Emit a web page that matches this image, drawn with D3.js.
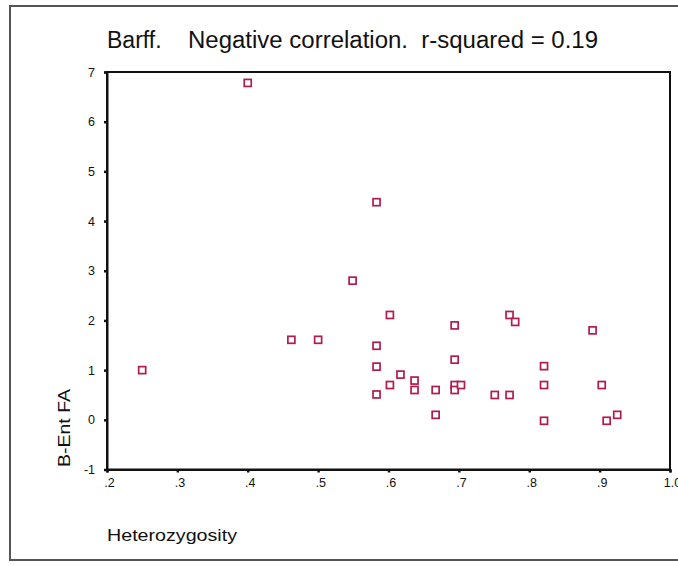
<!DOCTYPE html>
<html>
<head>
<meta charset="utf-8">
<script src="https://cdn.jsdelivr.net/npm/d3@7"></script>
<style>
  html, body { margin: 0; padding: 0; background: #ffffff; }
  svg { display: block; }
  text { font-family: "Liberation Sans", Arial, sans-serif; fill: #111; }
</style>
</head>
<body>
<svg id="chart" width="678" height="566"></svg>
<script>
// ---- data ----
const heterozygosity = [0.25, 0.40, 0.583, 0.549, 0.462, 0.50, 0.602, 0.583, 0.583, 0.583,
  0.602, 0.617, 0.637, 0.637, 0.667, 0.667, 0.694, 0.694, 0.694, 0.694,
  0.703, 0.751, 0.772, 0.772, 0.780, 0.821, 0.821, 0.821, 0.890, 0.903,
  0.910, 0.925];
const bentFA = [1.00, 6.78, 4.38, 2.80, 1.61, 1.61, 2.11, 1.49, 1.07, 0.51,
  0.70, 0.91, 0.79, 0.60, 0.60, 0.10, 1.90, 1.21, 0.70, 0.60,
  0.70, 0.50, 0.50, 2.11, 1.97, 1.08, 0.70, -0.02, 1.80, 0.70,
  -0.02, 0.10];
const xTicks = [0.2, 0.3, 0.4, 0.5, 0.6, 0.7, 0.8, 0.9, 1.0];
const xTickLabels = [".2", ".3", ".4", ".5", ".6", ".7", ".8", ".9", "1.0"];
const yTicks = [-1, 0, 1, 2, 3, 4, 5, 6, 7];
const yTickLabels = ["-1", "0", "1", "2", "3", "4", "5", "6", "7"];
const titleLead = "Barff.";
const titleRest = "Negative correlation.  r-squared = 0.19";
const xLabel = "Heterozygosity";
const yLabel = "B-Ent FA";

// ---- layout ----
const svg = d3.select("#chart");
const plot = { left: 107, right: 670, top: 72, bottom: 469.5 };
const markerColor = "#b01c4c";

const x = d3.scaleLinear().domain([0.2, 1.0]).range([plot.left, plot.right]);
const y = d3.scaleLinear().domain([-1, 7]).range([plot.bottom, plot.top]);

// outer frame
svg.append("rect")
  .attr("x", 10).attr("y", 6).attr("width", 690).attr("height", 554)
  .attr("fill", "none").attr("stroke", "#555").attr("stroke-width", 2);

// title
const title = svg.append("text").attr("y", 48).style("font-size", "23px")
  .style("white-space", "pre");
title.append("tspan").attr("x", 107).text(titleLead);
title.append("tspan").attr("x", 188).attr("textLength", 410)
  .attr("lengthAdjust", "spacingAndGlyphs").text(titleRest);

// plot box
svg.append("rect")
  .attr("x", plot.left).attr("y", plot.top)
  .attr("width", plot.right - plot.left).attr("height", plot.bottom - plot.top)
  .attr("fill", "none").attr("stroke", "#111").attr("stroke-width", 2);

// axes
const xAxis = d3.axisBottom(x).tickValues(xTicks)
  .tickFormat((d, i) => xTickLabels[i]).tickSize(3).tickPadding(6);
const gx = svg.append("g").attr("transform", `translate(0,${plot.bottom})`).call(xAxis);
gx.attr("font-size", null).attr("font-family", null);
gx.select(".domain").attr("stroke", "#111").attr("stroke-width", 2);
gx.selectAll(".tick line").attr("stroke", "#111").attr("stroke-width", 2.5);
gx.selectAll(".tick text").style("font-size", "12.5px")
  .attr("fill", "#111").attr("dx", 2);

const yAxis = d3.axisLeft(y).tickValues(yTicks).tickFormat((d, i) => yTickLabels[i])
  .tickSize(3).tickPadding(9);
const gy = svg.append("g").attr("transform", `translate(${plot.left},0)`).call(yAxis);
gy.attr("font-size", null).attr("font-family", null);
gy.select(".domain").attr("stroke", "#111").attr("stroke-width", 2);
gy.selectAll(".tick line").attr("stroke", "#111").attr("stroke-width", 2.5);
gy.selectAll(".tick text").style("font-size", "12.5px").attr("fill", "#111");

// axis labels
svg.append("text").attr("x", 107).attr("y", 541).style("font-size", "17px")
  .attr("textLength", 130).attr("lengthAdjust", "spacingAndGlyphs").text(xLabel);
svg.append("text").attr("transform", "translate(70,428) rotate(-90)")
  .attr("text-anchor", "middle").style("font-size", "17px")
  .attr("textLength", 78).attr("lengthAdjust", "spacingAndGlyphs").text(yLabel);

// points
const pts = heterozygosity.map((h, i) => ({ h, v: bentFA[i] }));
svg.append("g").selectAll("rect").data(pts).join("rect")
  .attr("x", d => x(d.h) - 3.5).attr("y", d => y(d.v) - 3.5)
  .attr("width", 7).attr("height", 7)
  .attr("fill", "#fff").attr("stroke", markerColor).attr("stroke-width", 1.7);
</script>
</body>
</html>
